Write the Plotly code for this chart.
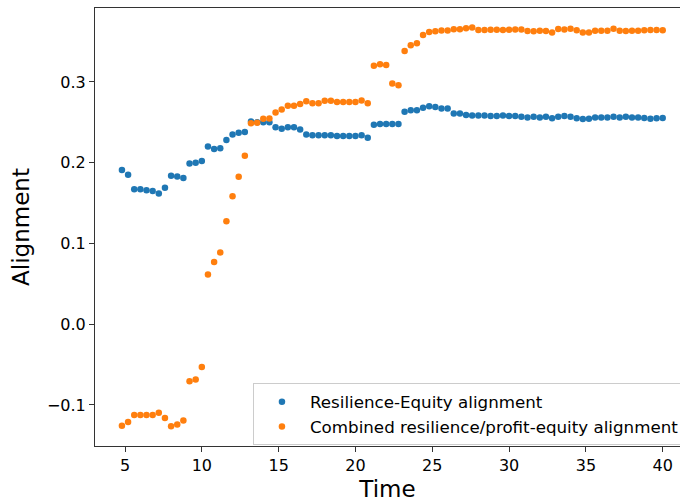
import plotly.graph_objects as go

time = [4.8, 5.2, 5.6, 6.0, 6.4, 6.8, 7.2, 7.6, 8.0, 8.4,
        8.8, 9.2, 9.6, 10.0, 10.4, 10.8, 11.2, 11.6, 12.0, 12.4,
        12.8, 13.2, 13.6, 14.0, 14.4, 14.8, 15.2, 15.6, 16.0, 16.4,
        16.8, 17.2, 17.6, 18.0, 18.4, 18.8, 19.2, 19.6, 20.0, 20.4,
        20.8, 21.2, 21.6, 22.0, 22.4, 22.8, 23.2, 23.6, 24.0, 24.4,
        24.8, 25.2, 25.6, 26.0, 26.4, 26.8, 27.2, 27.6, 28.0, 28.4,
        28.8, 29.2, 29.6, 30.0, 30.4, 30.8, 31.2, 31.6, 32.0, 32.4,
        32.8, 33.2, 33.6, 34.0, 34.4, 34.8, 35.2, 35.6, 36.0, 36.4,
        36.8, 37.2, 37.6, 38.0, 38.4, 38.8, 39.2, 39.6, 40.0]

resilience_equity = [
    0.191, 0.185, 0.167, 0.167, 0.166, 0.165, 0.162, 0.169, 0.184, 0.183,
    0.181, 0.199, 0.200, 0.202, 0.220, 0.217, 0.218, 0.228, 0.235, 0.237,
    0.238, 0.251, 0.250, 0.250, 0.250, 0.244, 0.242, 0.244, 0.244, 0.241,
    0.235, 0.234, 0.234, 0.234, 0.234, 0.233, 0.233, 0.233, 0.233, 0.234,
    0.231, 0.247, 0.248, 0.248, 0.248, 0.248, 0.263, 0.265, 0.265, 0.268,
    0.270, 0.269, 0.267, 0.267, 0.261, 0.261, 0.259, 0.2585, 0.2585, 0.2585,
    0.258, 0.258, 0.2585, 0.258, 0.258, 0.257, 0.256, 0.257, 0.256, 0.257,
    0.255, 0.257, 0.258, 0.257, 0.255, 0.254, 0.2545, 0.256, 0.256, 0.256,
    0.257, 0.256, 0.257, 0.256, 0.256, 0.2555, 0.2545, 0.255, 0.2555]

combined_alignment = [
    -0.1256, -0.121, -0.1124, -0.1124, -0.1124, -0.1124, -0.1095, -0.1161, -0.1264, -0.1243,
    -0.1193, -0.0706, -0.0686, -0.0529, 0.0616, 0.0772, 0.0888, 0.1276, 0.1586, 0.1826,
    0.2086, 0.249, 0.2495, 0.2544, 0.2548, 0.2623, 0.266, 0.2705, 0.2705, 0.2726,
    0.276, 0.2738, 0.2738, 0.2767, 0.2767, 0.2751, 0.2751, 0.2751, 0.2751, 0.2772,
    0.2735, 0.320, 0.322, 0.321, 0.2982, 0.2958, 0.3383, 0.3454, 0.3479, 0.3581,
    0.3618, 0.3627, 0.3636, 0.3636, 0.3652, 0.3652, 0.3666, 0.3674, 0.3643, 0.3643,
    0.3647, 0.3647, 0.3643, 0.3647, 0.3651, 0.3651, 0.3631, 0.3627, 0.3635, 0.3631,
    0.3614, 0.3656, 0.3651, 0.3660, 0.3639, 0.3614, 0.3614, 0.3635, 0.3635, 0.3635,
    0.3660, 0.3635, 0.3631, 0.3635, 0.3635, 0.3639, 0.3643, 0.3643, 0.3639]

series_names = ["Resilience-Equity alignment",
                "Combined resilience/profit-equity alignment"]
x_ticks = [5, 10, 15, 20, 25, 30, 35, 40]
y_ticks = [-0.1, 0.0, 0.1, 0.2, 0.3]
y_tick_labels = ["\u22120.1", "0.0", "0.1", "0.2", "0.3"]

FONT = "DejaVu Sans"

fig = go.Figure()
fig.add_trace(go.Scatter(x=time, y=resilience_equity, mode="markers",
                         name=series_names[0],
                         marker=dict(color="#1f77b4", size=6.5, line=dict(width=0))))
fig.add_trace(go.Scatter(x=time, y=combined_alignment, mode="markers",
                         name=series_names[1],
                         marker=dict(color="#ff7f0e", size=6.5, line=dict(width=0))))

fig.update_layout(
    width=680, height=504,
    margin=dict(l=95, r=0, t=8, b=58, autoexpand=False),
    paper_bgcolor="white", plot_bgcolor="white",
    font=dict(family=FONT, size=16, color="black"),
    showlegend=True,
    legend=dict(x=0.27, y=0.143, xanchor="left", yanchor="top",
                bgcolor="rgba(255,255,255,0.8)", bordercolor="#cccccc",
                borderwidth=1, font=dict(family=FONT, size=16.7, color="black"),
                itemwidth=46, tracegroupgap=0),
)
fig.update_xaxes(range=[3.047, 41.126], tickvals=x_ticks,
                 showgrid=False, zeroline=False,
                 showline=True, linecolor="#333333", linewidth=1, mirror=True,
                 ticks="outside", ticklen=5, tickwidth=1, tickcolor="#333333",
                 tickfont=dict(size=16),
                 title=dict(text="Time", font=dict(size=23), standoff=6))
fig.update_yaxes(range=[-0.1508, 0.3916], tickvals=y_ticks, ticktext=y_tick_labels,
                 showgrid=False, zeroline=False,
                 showline=True, linecolor="#333333", linewidth=1, mirror=False,
                 ticks="outside", ticklen=5, tickwidth=1, tickcolor="#333333",
                 tickfont=dict(size=16),
                 title=dict(text="Alignment", font=dict(size=23), standoff=10))

fig.write_html("out.html")
